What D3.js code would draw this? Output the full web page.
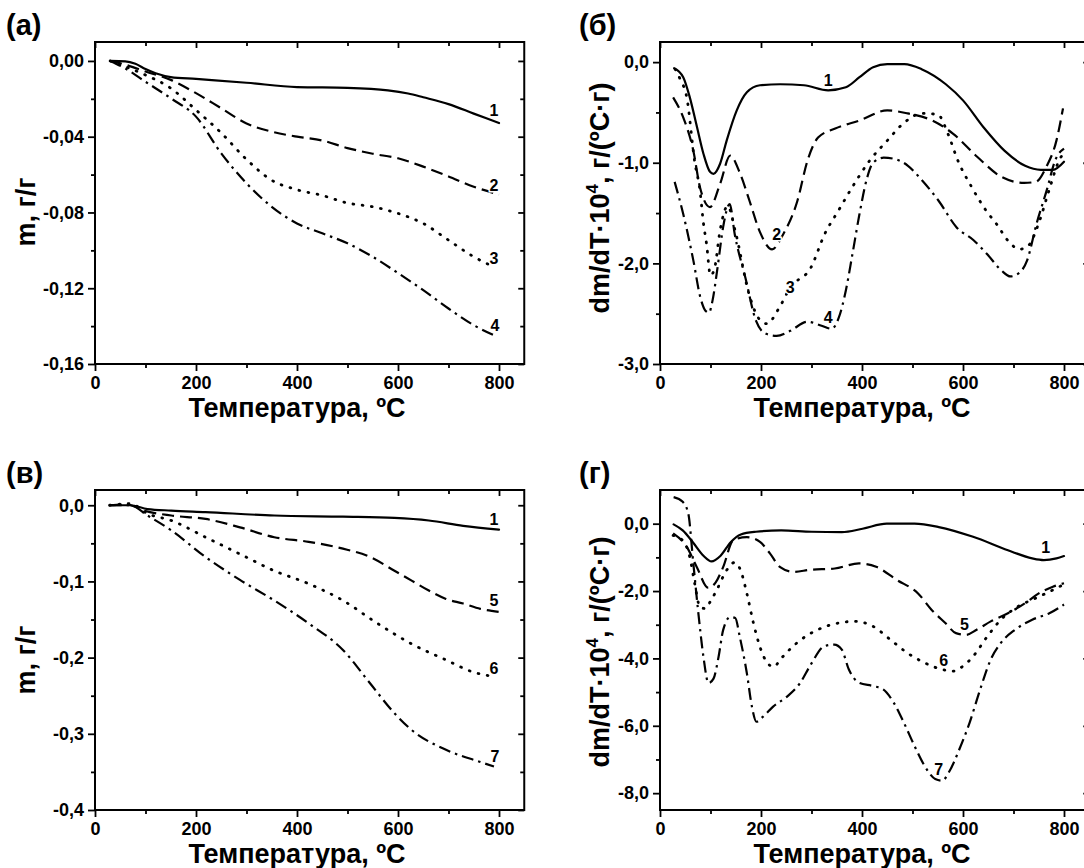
<!DOCTYPE html>
<html><head><meta charset="utf-8">
<script src="https://cdn.jsdelivr.net/npm/d3@7"></script>
<style>
body{margin:0;background:#fff;}
svg{display:block;font-family:"Liberation Sans",Arial,sans-serif;font-weight:bold;}
</style></head><body>
<svg id="c" width="1084" height="868"></svg>
<script>
// ---------- tick labels ----------
const tempTicks = [0, 200, 400, 600, 800];
const tempMinor = [100, 300, 500, 700];
const aTicks = [0, -0.04, -0.08, -0.12, -0.16];
const aMinor = [-0.02, -0.06, -0.10, -0.14];
const bTicks = [0, -1, -2, -3];
const bMinor = [-0.5, -1.5, -2.5];
const cTicks = [0, -0.1, -0.2, -0.3, -0.4];
const cMinor = [-0.05, -0.15, -0.25, -0.35];
const dTicks = [0, -2, -4, -6, -8];
const dMinor = [-1, -3, -5, -7];

// ---------- panel (а): TG, samples 1-4 ----------
const a1T = [30, 60, 80, 100, 120, 150, 200, 300, 400, 500, 580, 620, 650, 700, 750, 800];
const a1M = [0, -0.0002, -0.0015, -0.0043, -0.0065, -0.0085, -0.0095, -0.0115, -0.0138, -0.0142, -0.0155, -0.0172, -0.0192, -0.0228, -0.0278, -0.0328];
const a2T = [30, 60, 100, 150, 200, 250, 300, 350, 400, 450, 500, 550, 600, 650, 700, 750, 800];
const a2M = [0, -0.002, -0.0056, -0.010, -0.017, -0.025, -0.033, -0.0373, -0.040, -0.042, -0.046, -0.049, -0.0514, -0.0558, -0.061, -0.0664, -0.0705];
const a3T = [30, 60, 100, 150, 200, 250, 300, 350, 400, 450, 500, 550, 600, 650, 700, 750, 790];
const a3M = [0, -0.003, -0.0074, -0.0144, -0.0259, -0.038, -0.052, -0.063, -0.068, -0.071, -0.075, -0.077, -0.0805, -0.0858, -0.0946, -0.1034, -0.1087];
const a4T = [30, 60, 100, 150, 200, 250, 300, 350, 400, 450, 500, 550, 600, 650, 700, 750, 790];
const a4M = [0, -0.004, -0.011, -0.0197, -0.0294, -0.0488, -0.0646, -0.077, -0.0858, -0.091, -0.0963, -0.1034, -0.112, -0.121, -0.1307, -0.1395, -0.1448];
const aLabT = [790, 790, 790, 792];
const aLabV = [-0.026, -0.0655, -0.104, -0.1395];
const aLabTxt = ["1", "2", "3", "4"];

// ---------- panel (б): DTG, samples 1-4 ----------
const b1T = [28, 46, 59, 73, 86, 99, 106, 119, 132, 152, 172, 198, 238, 285, 333, 368, 395, 422, 450, 484, 518, 566, 600, 641, 682, 723, 754, 778, 800];
const b1V = [-0.06, -0.15, -0.35, -0.64, -0.91, -1.09, -1.11, -1.01, -0.78, -0.48, -0.30, -0.23, -0.22, -0.23, -0.28, -0.25, -0.15, -0.05, -0.02, -0.02, -0.07, -0.22, -0.38, -0.65, -0.88, -1.03, -1.07, -1.07, -0.99];
const b2T = [26, 46, 66, 79, 99, 119, 139, 158, 178, 198, 222, 244, 272, 292, 313, 347, 395, 450, 491, 539, 580, 628, 676, 721, 744, 765, 785, 798];
const b2V = [-0.35, -0.55, -0.88, -1.24, -1.44, -1.21, -0.93, -1.10, -1.39, -1.69, -1.86, -1.71, -1.38, -0.98, -0.75, -0.66, -0.58, -0.48, -0.51, -0.58, -0.71, -0.94, -1.14, -1.20, -1.19, -1.04, -0.78, -0.46];
const b3T = [30, 40, 53, 69, 79, 86, 92, 100, 108, 119, 134, 150, 176, 196, 212, 235, 258, 299, 326, 354, 381, 415, 450, 484, 518, 550, 570, 590, 617, 645, 668, 690, 712, 730, 750, 770, 790, 800];
const b3V = [-0.07, -0.17, -0.35, -1.0, -1.27, -1.6, -1.8, -2.12, -2.05, -1.67, -1.43, -1.7, -2.3, -2.55, -2.6, -2.45, -2.24, -2.04, -1.71, -1.47, -1.24, -0.98, -0.78, -0.6, -0.51, -0.52, -0.71, -0.98, -1.24, -1.47, -1.62, -1.78, -1.86, -1.82, -1.6, -1.28, -0.98, -0.9];
const b4T = [29, 46, 66, 80, 90, 97, 104, 114, 125, 138, 148, 169, 190, 210, 231, 258, 292, 320, 340, 354, 368, 381, 395, 409, 422, 443, 463, 491, 518, 552, 587, 621, 648, 676, 694, 710, 727, 746, 766, 783, 800];
const b4V = [-1.19, -1.51, -1.97, -2.34, -2.47, -2.49, -2.37, -2.04, -1.64, -1.41, -1.71, -2.14, -2.57, -2.70, -2.72, -2.67, -2.58, -2.62, -2.65, -2.54, -2.27, -1.91, -1.51, -1.17, -1.0, -0.95, -0.96, -1.03, -1.17, -1.38, -1.64, -1.77, -1.91, -2.07, -2.13, -2.10, -1.97, -1.60, -1.27, -0.97, -0.86];
const bLabT = [333, 231, 258, 333];
const bLabV = [-0.18, -1.71, -2.24, -2.54];
const bLabTxt = ["1", "2", "3", "4"];

// ---------- panel (в): TG, samples 1,5,6,7 ----------
const c1T = [29, 70, 104, 151, 219, 355, 491, 593, 661, 729, 800];
const c1M = [0, 0, -0.005, -0.007, -0.009, -0.0135, -0.015, -0.0166, -0.020, -0.027, -0.032];
const c5T = [29, 63, 97, 151, 219, 287, 355, 423, 491, 545, 593, 627, 661, 695, 729, 763, 800];
const c5M = [0, 0.001, -0.007, -0.0135, -0.018, -0.029, -0.042, -0.048, -0.057, -0.068, -0.086, -0.099, -0.112, -0.123, -0.129, -0.136, -0.140];
const c6T = [29, 70, 104, 151, 219, 287, 355, 423, 491, 559, 627, 695, 749, 790];
const c6M = [0, 0.002, -0.011, -0.020, -0.042, -0.064, -0.086, -0.103, -0.125, -0.155, -0.182, -0.203, -0.219, -0.225];
const c7T = [29, 70, 104, 151, 219, 287, 355, 423, 491, 545, 593, 627, 695, 763, 790];
const c7M = [0, 0, -0.0135, -0.033, -0.068, -0.098, -0.125, -0.155, -0.190, -0.234, -0.273, -0.295, -0.321, -0.337, -0.343];
const cLabT = [790, 790, 790, 792];
const cLabV = [-0.018, -0.125, -0.214, -0.330];
const cLabTxt = ["1", "5", "6", "7"];

// ---------- panel (г): DTG, samples 1,5,6,7 ----------
const d1T = [27, 45, 65, 86, 102, 120, 140, 160, 190, 240, 300, 360, 401, 449, 504, 552, 620, 689, 737, 760, 785, 800];
const d1V = [-0.02, -0.2, -0.55, -0.95, -1.12, -0.95, -0.55, -0.32, -0.24, -0.2, -0.24, -0.25, -0.15, 0, 0, -0.1, -0.39, -0.79, -1.03, -1.08, -1.03, -0.96];
const d5T = [26, 53, 73, 95, 110, 125, 145, 172, 198, 218, 238, 264, 297, 346, 394, 428, 469, 511, 538, 565, 586, 606, 627, 655, 689, 723, 750, 778, 800];
const d5V = [-0.29, -0.69, -1.29, -1.9, -1.75, -1.29, -0.49, -0.40, -0.54, -0.89, -1.29, -1.43, -1.37, -1.33, -1.18, -1.28, -1.67, -2.07, -2.56, -2.95, -3.25, -3.30, -3.15, -2.9, -2.66, -2.36, -2.07, -1.87, -1.77];
const d6T = [26, 45, 59, 69, 79, 90, 100, 112, 132, 148, 160, 172, 185, 198, 211, 225, 240, 271, 312, 353, 387, 422, 456, 490, 524, 559, 579, 600, 620, 648, 675, 709, 744, 771, 800];
const d6V = [-0.35, -0.5, -0.99, -1.8, -2.47, -2.52, -2.3, -1.98, -1.38, -1.15, -1.4, -2.07, -2.95, -3.66, -4.1, -4.25, -4.0, -3.54, -3.15, -2.95, -2.9, -3.05, -3.44, -3.84, -4.13, -4.33, -4.38, -4.23, -3.94, -3.35, -2.85, -2.46, -2.21, -2.02, -1.80];
const d7T = [27, 45, 56, 66, 76, 86, 96, 106, 116, 125, 139, 149, 158, 172, 182, 191, 204, 224, 251, 277, 298, 325, 345, 360, 374, 394, 422, 442, 463, 483, 504, 524, 545, 559, 572, 593, 613, 634, 655, 675, 703, 737, 771, 800];
const d7V = [0.79, 0.65, 0.3, -1.18, -2.66, -3.95, -4.73, -4.6, -3.95, -3.16, -2.77, -2.8, -3.36, -4.44, -5.43, -5.88, -5.73, -5.43, -5.14, -4.74, -4.2, -3.64, -3.59, -3.74, -4.33, -4.72, -4.82, -4.92, -5.32, -5.91, -6.6, -7.19, -7.58, -7.63, -7.38, -6.69, -5.91, -4.92, -4.03, -3.54, -3.15, -2.85, -2.66, -2.4];
const dLabT = [764, 603, 562, 552];
const dLabV = [-0.69, -3.0, -4.04, -7.28];
const dLabTxt = ["1", "5", "6", "7"];

// ---------- drawing ----------
const svg = d3.select("#c");
const STYLES = {
  solid:   {dash: null, cap: "round", w: 2.2},
  dash:    {dash: "12,6", cap: "butt", w: 2.2},
  dot:     {dash: "0.8,8.5", cap: "round", w: 2.8},
  dashdot: {dash: "12,5,2.5,5", cap: "butt", w: 2.2}
};
const PLOT_W = 429.25; // 850 °C range

function zip(T, V) { return T.map((t, i) => [t, V[i]]); }

function panel(cfg) {
  const g = svg.append("g");
  const x = d3.scaleLinear().domain([0, 850]).range([cfg.left, cfg.left + PLOT_W]);
  const y = d3.scaleLinear().domain(cfg.yDomain).range([cfg.bottom, cfg.top]);
  const fmt = v => (Math.abs(v) < 1e-9 ? 0 : v).toFixed(cfg.dec).replace(".", ",");

  const styleAxis = sel => {
    sel.attr("font-size", null).attr("font-family", null);
    sel.select(".domain").remove();
    sel.selectAll("line").attr("stroke", "#000").attr("stroke-width", 1.8);
    sel.selectAll("text").attr("font-size", 18).attr("fill", "#000");
  };
  // bottom
  g.append("g").attr("transform", `translate(0,${cfg.bottom})`)
    .call(d3.axisBottom(x).tickValues(tempTicks).tickSize(7).tickPadding(5).tickFormat(d => d)).call(styleAxis);
  g.append("g").attr("transform", `translate(0,${cfg.bottom})`)
    .call(d3.axisBottom(x).tickValues(tempMinor).tickSize(4).tickFormat("")).call(styleAxis);
  // top (inward)
  g.append("g").attr("transform", `translate(0,${cfg.top})`)
    .call(d3.axisTop(x).tickValues(tempTicks).tickSize(-6).tickFormat("")).call(styleAxis);
  g.append("g").attr("transform", `translate(0,${cfg.top})`)
    .call(d3.axisTop(x).tickValues(tempMinor).tickSize(-4).tickFormat("")).call(styleAxis);
  // left
  g.append("g").attr("transform", `translate(${cfg.left},0)`)
    .call(d3.axisLeft(y).tickValues(cfg.ticks).tickSize(7).tickPadding(4).tickFormat(fmt)).call(styleAxis);
  g.append("g").attr("transform", `translate(${cfg.left},0)`)
    .call(d3.axisLeft(y).tickValues(cfg.minor).tickSize(4).tickFormat("")).call(styleAxis);
  // right (inward)
  g.append("g").attr("transform", `translate(${cfg.left + PLOT_W},0)`)
    .call(d3.axisRight(y).tickValues(cfg.ticks).tickSize(-6).tickFormat("")).call(styleAxis);
  g.append("g").attr("transform", `translate(${cfg.left + PLOT_W},0)`)
    .call(d3.axisRight(y).tickValues(cfg.minor).tickSize(-4).tickFormat("")).call(styleAxis);

  // frame
  g.append("rect").attr("x", cfg.left).attr("y", cfg.top)
    .attr("width", PLOT_W).attr("height", cfg.bottom - cfg.top)
    .attr("fill", "none").attr("stroke", "#000").attr("stroke-width", 2);

  // curves
  const line = d3.line().x(d => x(d[0])).y(d => y(d[1])).curve(d3.curveMonotoneX);
  cfg.series.forEach(s => {
    const st = STYLES[s.style];
    g.append("path").datum(zip(s.T, s.V)).attr("d", line)
      .attr("fill", "none").attr("stroke", "#000").attr("stroke-width", st.w)
      .attr("stroke-linecap", st.cap).attr("stroke-linejoin", "round")
      .attr("stroke-dasharray", st.dash);
  });

  // curve labels
  cfg.labT.forEach((t, i) => {
    g.append("text").attr("x", x(t)).attr("y", y(cfg.labV[i])).attr("dy", "0.36em")
      .attr("text-anchor", "middle").attr("font-size", 16)
      .attr("stroke", "#fff").attr("stroke-width", 3).attr("paint-order", "stroke")
      .text(cfg.labTxt[i]);
  });

  // x title
  g.append("text").attr("x", x(400)).attr("y", cfg.bottom + 53)
    .attr("text-anchor", "middle").attr("font-size", 27).text("Температура, ºC");

  // y title
  const yt = g.append("text").attr("transform", `translate(${cfg.ytX},${cfg.ytY}) rotate(-90)`)
    .attr("text-anchor", "middle").attr("font-size", 27);
  if (cfg.dtg) {
    yt.append("tspan").text("dm/dT·10");
    yt.append("tspan").attr("font-size", 17).attr("dy", -11).text("4");
    yt.append("tspan").attr("dy", 11).text(", г/(ºC·г)");
  } else {
    yt.text("m, г/г");
  }

  // panel letter
  svg.append("text").attr("x", cfg.letX).attr("y", cfg.letY).attr("font-size", 29).text(cfg.letter);
}

panel({
  left: 95, top: 42, bottom: 364, yDomain: [-0.16, 0.01], dec: 2,
  ticks: aTicks, minor: aMinor,
  series: [
    {T: a1T, V: a1M, style: "solid"}, {T: a2T, V: a2M, style: "dash"},
    {T: a3T, V: a3M, style: "dot"}, {T: a4T, V: a4M, style: "dashdot"}],
  labT: aLabT, labV: aLabV, labTxt: aLabTxt,
  ytX: 35, ytY: 212, dtg: false, letter: "(а)", letX: 6, letY: 35
});
panel({
  left: 660, top: 42, bottom: 364, yDomain: [-3.0, 0.2], dec: 1,
  ticks: bTicks, minor: bMinor,
  series: [
    {T: b1T, V: b1V, style: "solid"}, {T: b2T, V: b2V, style: "dash"},
    {T: b3T, V: b3V, style: "dot"}, {T: b4T, V: b4V, style: "dashdot"}],
  labT: bLabT, labV: bLabV, labTxt: bLabTxt,
  ytX: 609, ytY: 198, dtg: true, letter: "(б)", letX: 579, letY: 35
});
panel({
  left: 95, top: 490, bottom: 810, yDomain: [-0.4, 0.02], dec: 1,
  ticks: cTicks, minor: cMinor,
  series: [
    {T: c1T, V: c1M, style: "solid"}, {T: c5T, V: c5M, style: "dash"},
    {T: c6T, V: c6M, style: "dot"}, {T: c7T, V: c7M, style: "dashdot"}],
  labT: cLabT, labV: cLabV, labTxt: cLabTxt,
  ytX: 35, ytY: 660, dtg: false, letter: "(в)", letX: 6, letY: 483
});
panel({
  left: 660, top: 490, bottom: 810, yDomain: [-8.5, 1.0], dec: 1,
  ticks: dTicks, minor: dMinor,
  series: [
    {T: d1T, V: d1V, style: "solid"}, {T: d5T, V: d5V, style: "dash"},
    {T: d6T, V: d6V, style: "dot"}, {T: d7T, V: d7V, style: "dashdot"}],
  labT: dLabT, labV: dLabV, labTxt: dLabTxt,
  ytX: 609, ytY: 652, dtg: true, letter: "(г)", letX: 579, letY: 483
});
</script>
</body></html>
